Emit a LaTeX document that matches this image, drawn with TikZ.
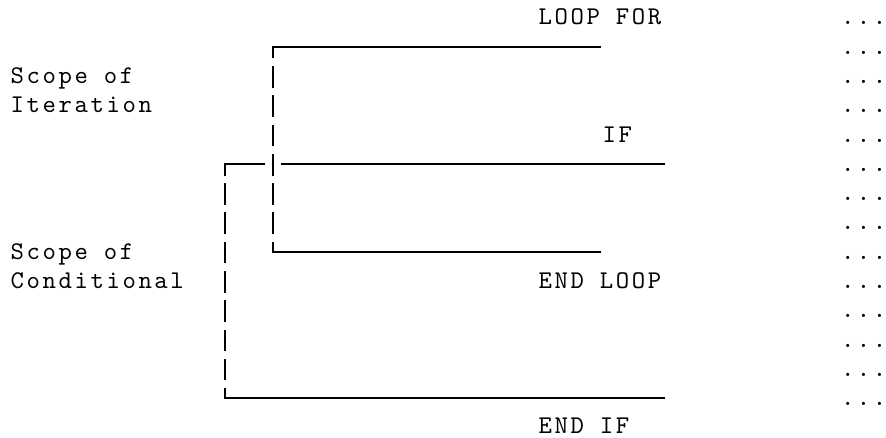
\documentclass[tikz,border=0pt]{standalone}
\usepackage{fontspec}
\newfontfamily\monofont[LetterSpace=10.2]{lmmono10-regular.otf}
\newfontfamily\monoplain{lmmono10-regular.otf}
\begin{document}
\begin{tikzpicture}[x=1pt,y=-1pt,
  txt/.style={font=\monofont\fontsize{25.5}{29.28}\selectfont, anchor=base west, inner sep=0pt, outer sep=0pt},
  dotstxt/.style={font=\monoplain\fontsize{25.5}{29.28}\selectfont, anchor=base west, inner sep=0pt, outer sep=0pt},
  bar/.style={line width=1.8pt, line cap=butt, line join=miter, draw=black}]
\useasboundingbox (0,0) rectangle (886,438);
% text rows: baseline y = 25 + 29.28 r ; column left x = 9.3 + 16 c (+1.3 glyph offset)
\node[txt] (loopfor) at ({10.6+16*33},{25+29.28*0}) {LOOP FOR};
\node[txt] (scopeIa) at ({10.6},{25+29.28*2}) {Scope of};
\node[txt] (scopeIb) at ({10.6},{25+29.28*3}) {Iteration};
\node[txt] (iftxt) at ({10.6+16*37},{25+29.28*4}) {IF};
\node[txt] (scopeCa) at ({10.6},{25+29.28*8}) {Scope of};
\node[txt] (scopeCb) at ({10.6},{25+29.28*9}) {Conditional};
\node[txt] (endloop) at ({10.6+16*33},{25+29.28*9}) {END LOOP};
\node[txt] (endif) at ({10.6+16*33},{24+29.28*14}) {END IF};
\foreach \r in {0,...,13} {
  \node[dotstxt] (dots\r) at ({9.0+16*52},{25+29.28*\r}) {.\kern2.6pt.\kern2.6pt.};
}
% bracket of iteration (column 16)
\coordinate (aTop) at (273.3,46.70);
\coordinate (aTopEnd) at (601.3,46.70);
\coordinate (aBot) at (273.3,251.66);
\coordinate (aBotEnd) at (601.3,251.66);
\draw[bar] (aTopEnd) -- (aTop) -- ++(0,11.7);
\foreach \r in {2,...,7} {
  \draw[bar] (273.3,{17.42+29.28*\r-10}) -- ++(0,21.7);
}
\draw[bar] (aBotEnd) -- (aBot) -- ++(0,-10);
% bracket of conditional (column 13)
\coordinate (bTop) at (225.3,163.82);
\coordinate (bTopMid) at (265.3,163.82);
\coordinate (bTopR) at (281.3,163.82);
\coordinate (bTopEnd) at (665.3,163.82);
\coordinate (bBot) at (225.3,398.06);
\coordinate (bBotEnd) at (665.3,398.06);
\draw[bar] (bTopMid) -- (bTop) -- ++(0,11.7);
\draw[bar] (bTopR) -- (bTopEnd);
\foreach \r in {6,...,12} {
  \draw[bar] (225.3,{17.42+29.28*\r-10}) -- ++(0,21.7);
}
\draw[bar] (bBotEnd) -- (bBot) -- ++(0,-10);
\end{tikzpicture}
\end{document}
